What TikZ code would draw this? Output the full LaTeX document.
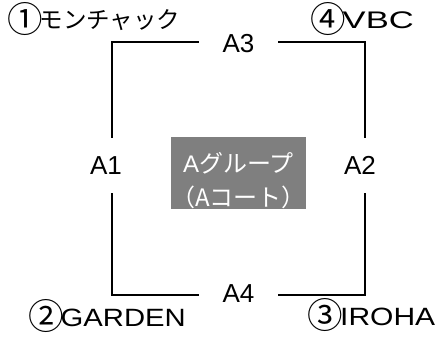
\documentclass[tikz,border=0pt]{standalone}
\usepackage{fontspec}
\setmainfont{Liberation Sans}
\newfontfamily\jp{Noto Sans CJK JP}
\definecolor{boxgray}{RGB}{127,127,127}
\newcommand\circnum[1]{\raisebox{-3.8pt}{\scalebox{1.42}{\jp #1}}\kern-3pt}
\begin{document}
\begin{tikzpicture}[x=1pt,y=-1pt,
  lbl/.style={inner sep=0pt, font=\fontsize{26}{30}\selectfont},
  hlbl/.style={lbl, minimum width=79pt},
  vlbl/.style={lbl, minimum height=55pt},
  edge/.style={line width=2pt, line join=miter, line cap=butt},
  teamlbl/.style={inner sep=0pt, anchor=base west, font=\fontsize{25}{28}\selectfont}]
\useasboundingbox (0,0) rectangle (437,337);
\coordinate (c1) at (112,42);
\coordinate (c2) at (365,42);
\coordinate (c3) at (365,295);
\coordinate (c4) at (112,295);
\node[hlbl] (A3) at (238.5,44) {A3};
\node[hlbl] (A4) at (238.5,294) {A4};
\node[vlbl] (A1) at (106,165.5) {A1};
\node[vlbl] (A2) at (360,165.5) {A2};
\draw[edge] (c1 -| A3.west) -- (c1) -- (c1 |- A1.north);
\draw[edge] (c2 -| A3.east) -- (c2) -- (c2 |- A2.north);
\draw[edge] (c4 |- A1.south) -- (c4) -- (c4 -| A4.west);
\draw[edge] (c3 |- A2.south) -- (c3) -- (c3 -| A4.east);
\node[fill=boxgray, text=white, minimum width=135pt, minimum height=72pt, inner sep=0pt, align=center, font=\fontsize{24}{34}\selectfont] (grp) at (238.5,173) {\rule{0pt}{35pt}A\jp{グループ}\\\jp{（}A\jp{コート）}};
\node[teamlbl] (t1) at (7,28.5) {\circnum{①}{\jp\fontsize{23.5}{28}\selectfont モンチャック}};
\node[teamlbl] (t4) at (310,29) {\circnum{④}\scalebox{1.44}[1]{\fontsize{24}{28}\selectfont VBC}};
\node[teamlbl] (t2) at (28,326) {\circnum{②}\scalebox{1.17}[1]{GARDEN}};
\node[teamlbl] (t3) at (307.5,325) {\circnum{③}\scalebox{1.2}[1]{IROHA}};
\end{tikzpicture}
\end{document}
